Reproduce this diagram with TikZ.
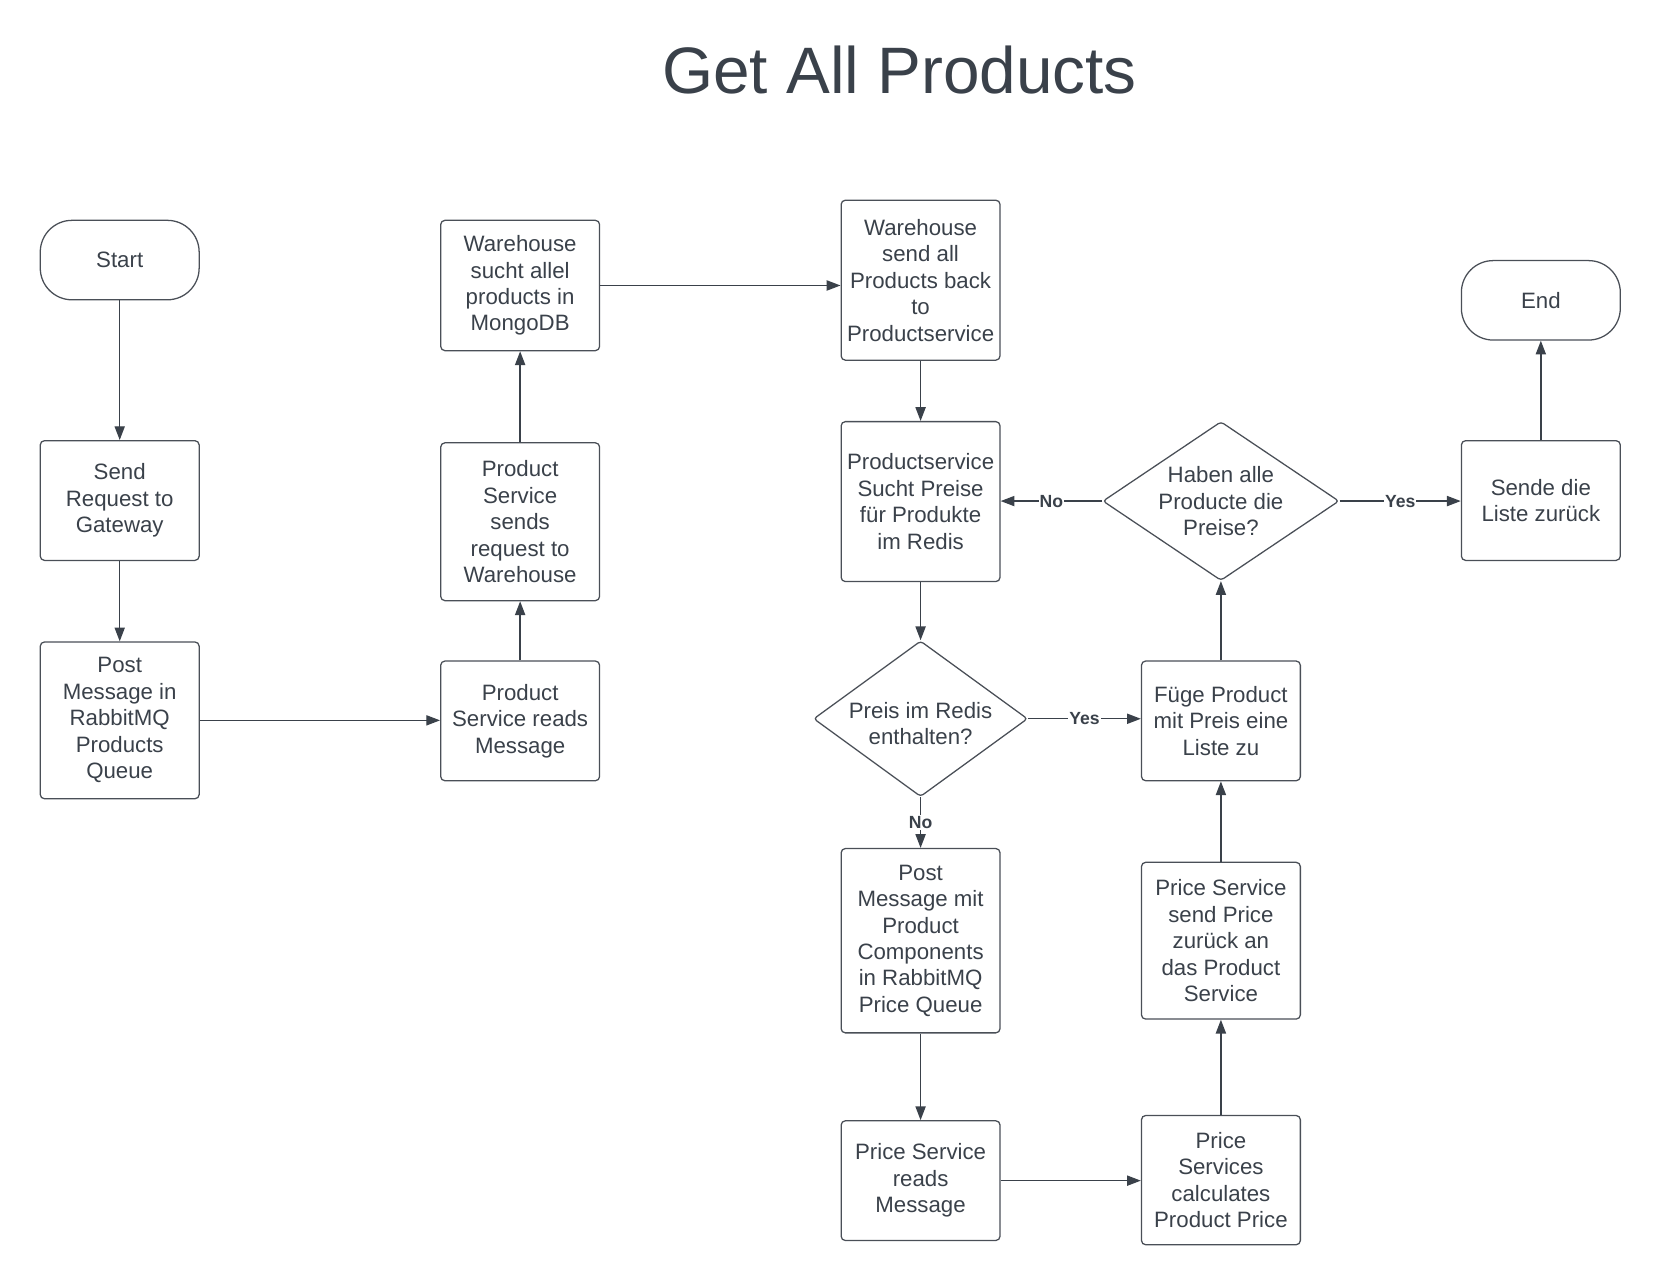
\documentclass[tikz,border=0pt]{standalone}
\usepackage{fontspec}
\setmainfont{Liberation Sans}
\usetikzlibrary{shapes.geometric,arrows.meta}
\definecolor{ink}{HTML}{3A414A}
\definecolor{edgecol}{HTML}{4A4F57}
\begin{document}
\begin{tikzpicture}[x=0.5pt,y=-0.5pt,
  box/.style={draw=edgecol, line width=0.6pt, rounded corners=2pt, minimum width=75pt,
    align=center, text=ink, font=\fontsize{10.5}{12.5}\selectfont, inner sep=0pt},
  term/.style={box, rounded corners=15pt, minimum height=37.5pt},
  dia/.style={diamond, draw=edgecol, line width=0.6pt, rounded corners=1.5pt, inner sep=0pt},
  txt/.style={align=center, text=ink, font=\fontsize{10.5}{12.5}\selectfont, inner sep=0pt},
  conn/.style={draw=ink, line width=0.65pt, -{Triangle[length=6.5pt,width=4.8pt]}},
  lbl/.style={fill=white, text=ink, font=\bfseries\fontsize{8.3}{9}\selectfont, inner sep=0.5pt}]
\useasboundingbox (0,0) rectangle (1567,1213);

\node[text=ink, font=\fontsize{31}{36}\selectfont, anchor=base, inner sep=0pt] (title) at (849,88.5) {Get All Products};

% left column
\node[term] (start) at (113,245.5) {Start};
\node[box, minimum height=56.5pt] (send) at (113,472.5) {Send\\Request to\\Gateway};
\node[box, minimum height=74pt] (postq) at (113,680) {Post\\Message in\\RabbitMQ\\Products\\Queue};

% second column
\node[box, minimum height=56.5pt] (reads) at (491,680.5) {Product\\Service reads\\Message};
\node[box, minimum height=74.5pt] (sends) at (491,492.5) {Product\\Service\\sends\\request to\\Warehouse};
\node[box, minimum height=61.5pt] (sucht) at (491,269.5) {Warehouse\\sucht allel\\products in\\MongoDB};

% third column
\node[box, minimum height=75.5pt] (sendall) at (869,264.5) {Warehouse\\send all\\Products back\\to\\Productservice};
\node[box, minimum height=75.5pt] (psuch) at (869,473.5) {Productservice\\Sucht Preise\\für Produkte\\im Redis};
\node[dia, minimum width=101pt, minimum height=73.5pt] (preis) at (869,678.5) {};
\node[txt] (preist) at (869,683) {Preis im Redis\\enthalten?};
\node[box, minimum height=87pt] (postmit) at (869,888) {Post\\Message mit\\Product\\Components\\in RabbitMQ\\Price Queue};
\node[box, minimum height=56.5pt] (preads) at (869,1114.5) {Price Service\\reads\\Message};

% fourth column
\node[box, minimum height=61pt] (calc) at (1152.5,1114) {Price\\Services\\calculates\\Product Price};
\node[box, minimum height=74pt] (sendp) at (1152.5,888) {Price Service\\send Price\\zurück an\\das Product\\Service};
\node[box, minimum height=56.5pt] (fuege) at (1152.5,680.5) {Füge Product\\mit Preis eine\\Liste zu};
\node[dia, minimum width=111.5pt, minimum height=75pt] (haben) at (1152.5,473) {};
\node[txt] (habent) at (1152.5,473) {Haben alle\\Producte die\\Preise?};

% fifth column
\node[box, minimum height=56.5pt] (liste) at (1454.5,472.5) {Sende die\\Liste zurück};
\node[term] (end) at (1454.5,283.5) {End};

% connectors
\draw[conn] (start) -- (send);
\draw[conn] (send) -- (postq);
\draw[conn] (postq.east) -- (postq.east -| reads.west);
\draw[conn] (reads) -- (sends);
\draw[conn] (sends) -- (sucht);
\draw[conn] (sucht.east) -- (sucht.east -| sendall.west);
\draw[conn] (sendall) -- (psuch);
\draw[conn] (psuch) -- (preis);
\draw[conn] (preis) -- node[lbl] {No} (postmit);
\draw[conn] (postmit) -- (preads);
\draw[conn] (preads.east) -- (preads.east -| calc.west);
\draw[conn] (calc) -- (sendp);
\draw[conn] (sendp) -- (fuege);
\draw[conn] (preis.east) -- node[lbl] {Yes} (preis.east -| fuege.west);
\draw[conn] (fuege) -- (haben);
\draw[conn] (haben.west) -- node[lbl] {No} (haben.west -| psuch.east);
\draw[conn] (haben.east) -- node[lbl] {Yes} (haben.east -| liste.west);
\draw[conn] (liste) -- (end);
\end{tikzpicture}
\end{document}
